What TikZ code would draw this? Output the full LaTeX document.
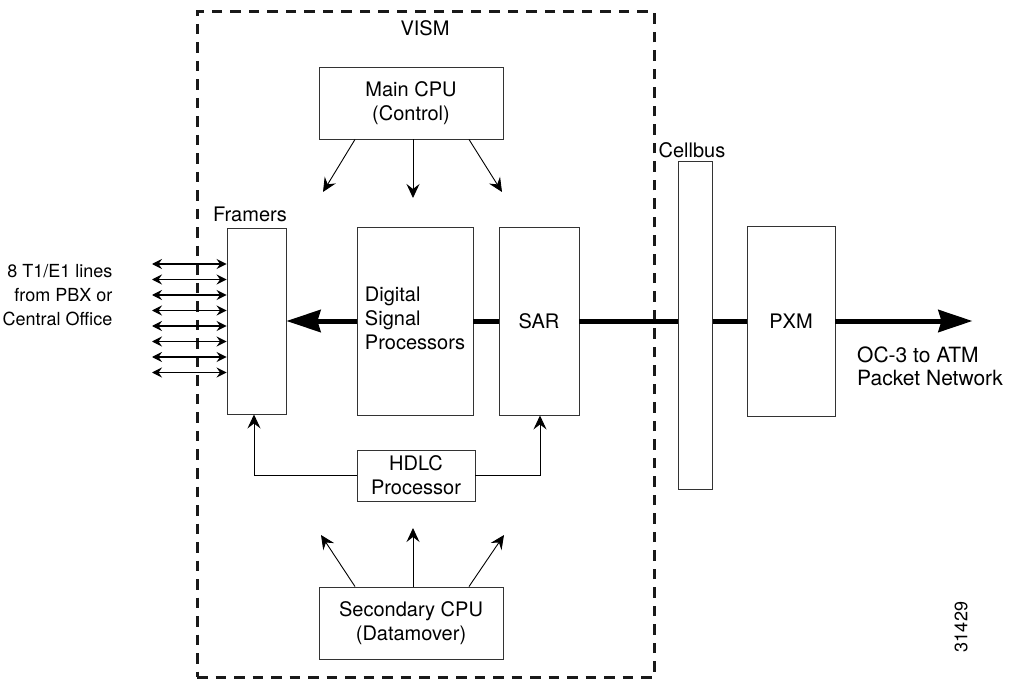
\documentclass[tikz,border=0pt]{standalone}
\usepackage{fontspec}
\setmainfont{TeX Gyre Heros}
\usetikzlibrary{arrows.meta}
\begin{document}
\begin{tikzpicture}[x=1pt,y=-1pt,
  box/.style={draw=black!80, line width=0.9pt, fill=white, inner sep=0pt, font=\fontsize{20}{24}\selectfont, align=center},
  txt/.style={inner sep=0pt, font=\fontsize{20}{24}\selectfont},
  sidetxt/.style={inner sep=0pt, font=\fontsize{18}{24}\selectfont},
  octxt/.style={inner sep=0pt, font=\fontsize{21}{23}\selectfont},
  visml/.style={draw=black!90, line width=3pt, dash pattern=on 10.5pt off 8pt},
  thinarrow/.style={line width=0.9pt, -{Stealth[length=14pt, width=13pt, inset=5pt]}},
  duoarrow/.style={line width=1.1pt, {Stealth[length=10pt, width=10pt, inset=3.5pt]}-{Stealth[length=10pt, width=10pt, inset=3.5pt]}},
  bigline/.style={line width=5pt},
  bigarrow/.style={line width=5pt, -{Stealth[length=34pt, width=22pt, inset=3pt]}}
]
\useasboundingbox (0,0) rectangle (1010,679);

% VISM dashed frame
\node[visml, minimum width=457pt, minimum height=665pt, inner sep=0pt] (vism) at (425.5,344.5) {};
\node[txt] (vismlabel) at (425,28) {VISM};

% boxes
\node[box, minimum width=184pt, minimum height=72pt] (main) at (411,103) {Main CPU\\(Control)};
\node[box, minimum width=184pt, minimum height=72pt] (sec) at (411,623) {Secondary CPU\\(Datamover)};
\node[box, minimum width=59pt, minimum height=186pt] (framers) at (256.5,321) {};
\node[box, minimum width=116pt, minimum height=188pt] (dsp) at (415,321) {\begin{tabular}{@{}l@{}}Digital\\Signal\\Processors\end{tabular}};
\node[box, minimum width=80pt, minimum height=188pt] (sar) at (539,321) {SAR};
\node[box, minimum width=118pt, minimum height=51pt] (hdlc) at (416,475.5) {HDLC\\Processor};
\node[box, minimum width=88pt, minimum height=190pt] (pxm) at (791,321) {PXM};

% thick data path
\draw[bigline] (dsp.east) -- (sar.west);
\draw[bigline] (sar.east) -- (pxm.west);
\draw[bigarrow] (dsp.west) -- (framers.east);
\coordinate (ocend) at ([xshift=137pt]pxm.east);
\draw[bigarrow] (pxm.east) -- (ocend);

% cellbus drawn over the thick line
\node[box, minimum width=34pt, minimum height=328pt] (cellbus) at (695,325) {};
\node[txt] (cellbuslabel) at (692,150) {Cellbus};
\node[txt] (framerslabel) at (250,214) {Framers};

% main CPU arrows
\coordinate (m1) at (323,192);
\coordinate (m2) at (413,198);
\coordinate (m3) at (502,192);
\draw[thinarrow] ([xshift=-56pt]main.south) -- (m1);
\draw[thinarrow] ([xshift=2pt]main.south) -- (m2);
\draw[thinarrow] ([xshift=58pt]main.south) -- (m3);

% secondary CPU arrows
\coordinate (s1) at (321,535);
\coordinate (s2) at (413,528);
\coordinate (s3) at (504,535);
\draw[thinarrow] ([xshift=-56pt]sec.north) -- (s1);
\draw[thinarrow] ([xshift=2pt]sec.north) -- (s2);
\draw[thinarrow] ([xshift=58pt]sec.north) -- (s3);

% HDLC links
\draw[thinarrow] (hdlc.west) -| ([xshift=-2.5pt]framers.south);
\draw[thinarrow] (hdlc.east) -| ([xshift=1pt]sar.south);

% T1/E1 lines
\foreach \yy [count=\i] in {264,279.5,295,310.5,326,341.5,357,372.5} {
  \coordinate (L\i) at (152,\yy);
  \draw[duoarrow] (L\i) -- (L\i -| framers.west);
}
\node[sidetxt, align=right, anchor=east] (lineslabel) at (112.5,295) {8 T1/E1 lines\\from PBX or\\Central Office};
\node[octxt, align=left, anchor=west] (oclabel) at (857,366) {OC-3 to ATM\\Packet Network};
\node[inner sep=0pt, rotate=90, font=\fontsize{18}{20}\selectfont] (fignum) at (961,627) {31429};
\end{tikzpicture}
\end{document}
